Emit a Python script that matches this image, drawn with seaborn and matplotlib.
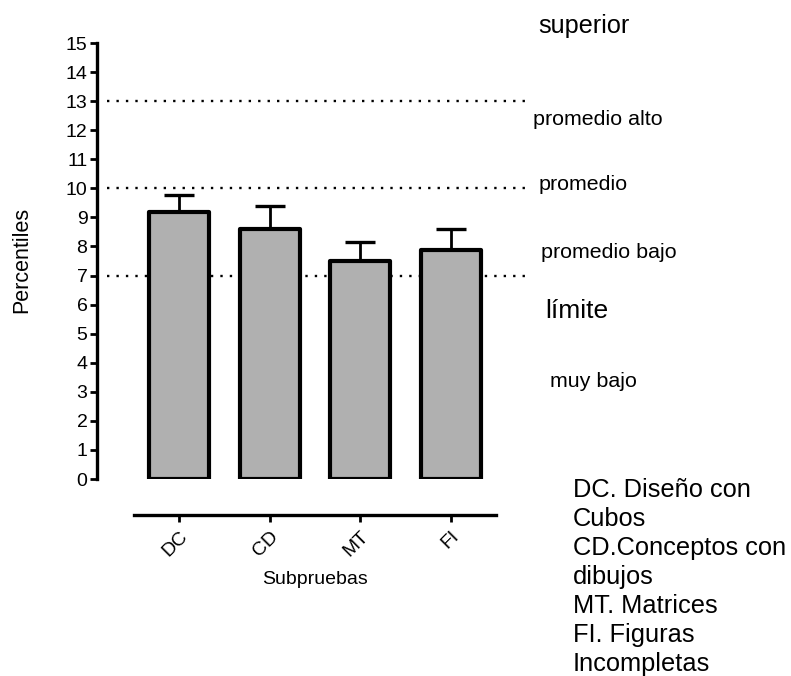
import matplotlib
matplotlib.use("Agg")
import matplotlib.pyplot as plt
import numpy as np
import seaborn as sns
import pandas as pd

subtests = ["DC", "CD", "MT", "FI"]
means = [9.19, 8.59, 7.49, 7.89]
sem = [0.59, 0.81, 0.67, 0.70]
ref_lines = [13, 10, 7]

band_labels = ["superior", "promedio alto", "promedio", "promedio bajo", "límite", "muy bajo"]
legend_lines = ["DC. Diseño con", "Cubos", "CD.Conceptos con", "dibujos",
                "MT. Matrices", "FI. Figuras", "Incompletas"]

sns.set_style("ticks")
plt.rcParams["font.family"] = ["Liberation Sans", "DejaVu Sans"]
plt.rcParams["text.color"] = "black"
plt.rcParams["axes.labelcolor"] = "black"
plt.rcParams["axes.edgecolor"] = "black"
plt.rcParams["xtick.color"] = "black"
plt.rcParams["ytick.color"] = "black"

W, H = 791, 676
fig = plt.figure(figsize=(W / 100, H / 100), dpi=100)
ax = fig.add_axes([134 / W, 1 - 479 / H, 362 / W, 436 / H])

df = pd.DataFrame({"Subpruebas": subtests, "Percentiles": means})
sns.barplot(data=df, x="Subpruebas", y="Percentiles", order=subtests,
            color="#b0b0b0", saturation=1, width=0.66,
            edgecolor="black", linewidth=3, ax=ax, zorder=3)
for p in ax.patches:
    p.set_joinstyle("round")

# upper error bars only
ax.errorbar(np.arange(len(subtests)), means, yerr=[np.zeros(len(sem)), sem],
            fmt="none", ecolor="black", elinewidth=2, capsize=11, capthick=2.4,
            zorder=2)

# dotted reference lines, extend past the axes
for v in ref_lines:
    ax.plot([-0.8, 3.82], [v, v], color="black", lw=1.7,
            linestyle=(0, (1, 3.0)), clip_on=False, zorder=1)

ax.set_xlim(-0.5, 3.5)
ax.set_ylim(0, 15)
ax.set_yticks(range(0, 16))

sns.despine(ax=ax)
ax.spines["left"].set_position(("outward", 26.5))
ax.spines["bottom"].set_position(("outward", 26))
ax.spines["left"].set_linewidth(2.4)
ax.spines["bottom"].set_linewidth(2.4)

ax.tick_params(axis="both", width=2, length=5, labelsize=14, pad=2)
ax.tick_params(axis="x", pad=4)
ax.set_xticks(range(len(subtests)))
ax.set_xticklabels(subtests, rotation=45, ha="right", rotation_mode="anchor")

ax.set_xlabel("Subpruebas", fontsize=14, labelpad=8)
ax.set_ylabel("")
fig.text(22 / W, 1 - 260 / H, "Percentiles", rotation=90, fontsize=15.5,
         ha="center", va="center")


def put(px, py, s, size):
    fig.text(px / W, 1 - py / H, s, fontsize=size, ha="left", va="baseline")


band_pos = [(538, 33, 18.2), (533, 125, 15.4), (539, 190, 15.4),
            (541, 258, 15.4), (545, 318, 19), (550, 387, 15.4)]
for lab, (px, py, sz) in zip(band_labels, band_pos):
    put(px, py, lab, sz)

for i, line in enumerate(legend_lines):
    put(573, 497 + i * 29, line, 18.3)

fig.savefig("out.png", dpi=100)
